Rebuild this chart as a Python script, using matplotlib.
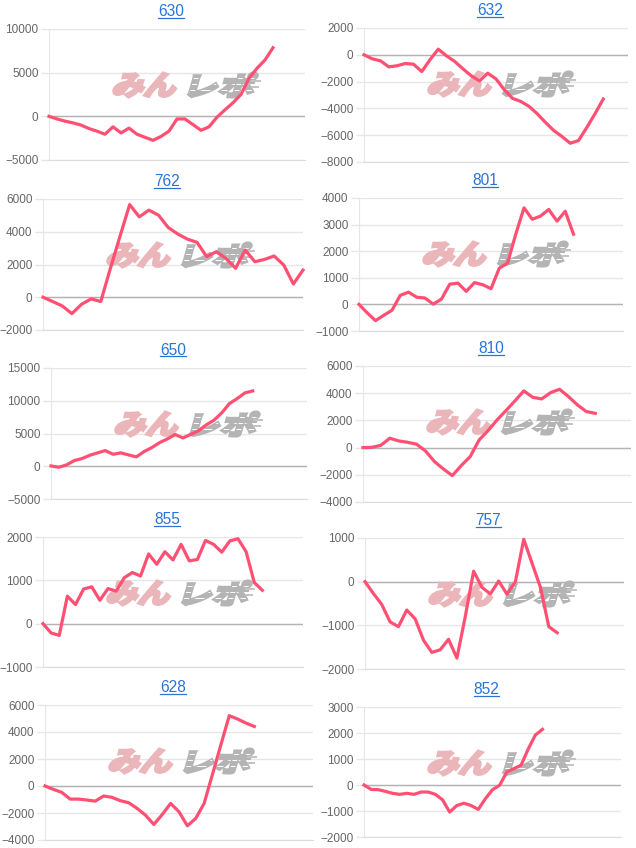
import numpy as np
import matplotlib
matplotlib.use('Agg')
import matplotlib.pyplot as plt
from matplotlib.textpath import TextPath
from matplotlib.font_manager import FontProperties
from matplotlib.patches import PathPatch, Rectangle
from matplotlib.transforms import Affine2D, IdentityTransform
from matplotlib.lines import Line2D

plt.rcParams['font.family'] = ['Liberation Sans', 'DejaVu Sans']

W, H = 636, 848

# machine numbers (chart titles)
names = ['630', '632', '762', '801', '650', '810', '855', '757', '628', '852']

# balance per game
v630 = [0, -300, -550, -750, -1000, -1400, -1700, -2050, -1200, -1900, -1350, -2050, -2400,
        -2750, -2300, -1700, -300, -300, -950, -1600, -1200, -100, 750, 1550, 2500, 4350,
        5500, 6450, 7850]
v632 = [0, -300, -450, -900, -820, -650, -700, -1250, -370, 420, -80, -500, -1050, -1570,
        -1950, -1370, -1800, -2600, -3250, -3480, -3850, -4400, -5050, -5650, -6100, -6600,
        -6400, -5430, -4400, -3300]
v762 = [0, -260, -530, -1000, -430, -100, -260, 1770, 3730, 5660, 4910, 5320, 5010, 4260,
        3860, 3550, 3350, 2480, 2780, 2370, 1770, 2880, 2170, 2310, 2520, 1970, 810, 1660]
v801 = [0, -320, -610, -410, -220, 340, 460, 270, 240, 10, 200, 760, 800, 490, 820, 740,
        590, 1360, 1550, 2640, 3630, 3200, 3320, 3570, 3130, 3500, 2640]
v650 = [50, -150, 200, 870, 1170, 1680, 2040, 2390, 1830, 2040, 1730, 1430, 2240, 2850,
        3610, 4170, 4840, 4330, 4840, 5400, 6310, 7020, 8140, 9570, 10330, 11200, 11500]
v810 = [0, 20, 170, 690, 490, 390, 250, -250, -1030, -1570, -2060, -1320, -660, 560, 1250,
        2030, 2720, 3430, 4170, 3700, 3580, 4040, 4290, 3750, 3140, 2650, 2520]
v855 = [0, -215, -270, 635, 440, 800, 850, 540, 810, 750, 1060, 1180, 1100, 1610, 1370,
        1660, 1470, 1830, 1450, 1480, 1920, 1830, 1650, 1910, 1960, 1660, 950, 770]
v757 = [0, -270, -520, -920, -1030, -650, -850, -1340, -1620, -1560, -1320, -1750, -800,
        240, -130, -280, 15, -290, 0, 970, 420, -130, -1030, -1170]
v628 = [0, -250, -470, -970, -970, -1040, -1120, -740, -840, -1090, -1240, -1660, -2160,
        -2850, -2110, -1290, -1910, -2950, -2400, -1290, 870, 3050, 5210, 4960, 4660, 4410]
v852 = [0, -170, -180, -245, -320, -360, -320, -360, -270, -270, -360, -570, -1040, -790,
        -700, -790, -940, -530, -180, -10, 500, 630, 760, 1380, 1920, 2140]

series = [v630, v632, v762, v801, v650, v810, v855, v757, v628, v852]

# number of x slots on each axis
x_slots = [32, 32, 27, 32, 33, 30, 32, 31, 32, 36]

# y axis: min, max, step
y_ticks = [(-5000, 10000, 5000), (-8000, 2000, 2000), (-2000, 6000, 2000),
           (-1000, 4000, 1000), (-5000, 15000, 5000), (-4000, 6000, 2000),
           (-1000, 2000, 1000), (-2000, 1000, 1000), (-4000, 6000, 2000),
           (-2000, 3000, 1000)]

# plot boxes in pixels: left, top, right, bottom
boxes = [(49, 29, 305, 160), (364, 28, 628, 162),
         (43, 199, 303, 330), (359, 198, 623, 331),
         (51, 368, 307, 499), (363, 366, 631, 502),
         (43, 537, 303, 667), (365, 538, 624, 669),
         (45, 705, 313, 840), (364, 707, 621, 837)]

LINE = '#ff5073'
GRID = '#e6e6e6'
TITLE = '#2a74d6'

fig = plt.figure(figsize=(W / 100, H / 100), dpi=100)
fp = FontProperties(family='Noto Sans CJK JP', weight='bold')


def logo(ax, x0, ytop):
    # watermark: pink "みん" + striped gray "レポ"
    h = 24
    sk = np.radians(16)
    patches = []
    for s, dx, w, col in [('みん', 1, 68, '#eab6ba'), ('レポ', 77, 70, '#b4b4b4')]:
        p = TextPath((0, 0), s, size=100, prop=fp)
        bb = p.get_extents()
        sx = (w - h * np.tan(sk)) / bb.width
        sy = h / bb.height
        tr = (Affine2D().translate(-bb.x0, -bb.y0).scale(sx, sy).skew(sk, 0)
              .translate(x0 + dx, H - ytop - h - 1))
        pp = PathPatch(p, transform=tr, facecolor=col, edgecolor=col, lw=2.2,
                       joinstyle='miter', zorder=1.5, clip_on=False)
        ax.add_patch(pp)
        patches.append(pp)
    gray = patches[1]
    for fy in [0.3, 0.55, 0.8]:
        r = Rectangle((x0 + 70, H - ytop - h * fy), 100, 1.5, transform=IdentityTransform(),
                      facecolor='white', edgecolor='none', zorder=1.6)
        ax.add_patch(r)
        r.set_clip_path(gray)
    for fy, ln in [(0.4, 10), (0.65, 8)]:
        ax.add_patch(Rectangle((x0 + 140, H - ytop - h * fy), ln, 1.8,
                               transform=IdentityTransform(), facecolor='#c4c4c4',
                               edgecolor='none', zorder=1.5, clip_on=False))


titles = []
for i in range(10):
    l, t, r, b = boxes[i]
    ax = fig.add_axes([l / W, 1 - b / H, (r - l) / W, (b - t) / H])
    vals = series[i]
    ax.plot(range(len(vals)), vals, color=LINE, lw=2.3, zorder=3, clip_on=False)

    lo, hi, st = y_ticks[i]
    ax.set_yticks(np.arange(lo, hi + 1, st))
    ax.set_ylim(lo, hi)
    ax.set_xlim(0, x_slots[i])
    ax.set_xticks([])
    ax.yaxis.grid(True, color=GRID, lw=1)
    ax.set_axisbelow(True)
    ax.axhline(0, color='#b3b3b3', lw=1, zorder=1)
    for sp in ['top', 'right']:
        ax.spines[sp].set_visible(False)
    ax.spines['left'].set_color(GRID)
    ax.spines['bottom'].set_color('#dcdcdc')
    ax.tick_params(axis='y', length=6, width=1, color=GRID, labelcolor='#666666',
                   labelsize=8.5, pad=1.5)

    logo(ax, l + 62, t + 43)

    cx = (l + r) / 2 - 6
    tt = fig.text(cx / W, 1 - (t - 13) / H, names[i], ha='center', va='baseline',
                  color=TITLE, fontsize=11.2)
    titles.append((tt, t))

# underline the titles like links
fig.canvas.draw()
rend = fig.canvas.get_renderer()
for tt, t in titles:
    bb = tt.get_window_extent(rend)
    y = 1 - (t - 11.5) / H
    fig.add_artist(Line2D([bb.x0 / W, bb.x1 / W], [y, y], color=TITLE, lw=0.9))

fig.savefig('out.png', dpi=100)
